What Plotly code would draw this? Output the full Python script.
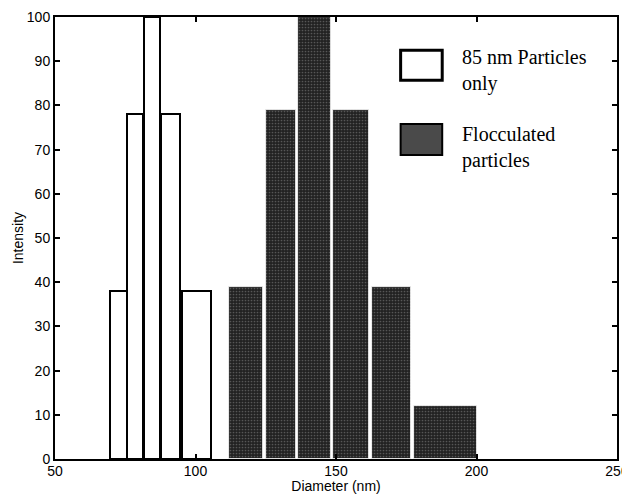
import plotly.graph_objects as go

# Data
white_left = [69.6, 75.6, 81.5, 87.8, 95.2]
white_right = [75.5, 81.2, 87.3, 94.4, 105.4]
white_heights = [38, 78, 100, 78, 38]

dark_left = [112.0, 125.0, 136.6, 149.0, 162.7, 177.9]
dark_right = [124.1, 135.8, 148.2, 161.8, 176.6, 200.3]
dark_heights = [39, 79, 100, 79, 39, 12]

x_ticks = [50, 100, 150, 200, 250]
y_ticks = [0, 10, 20, 30, 40, 50, 60, 70, 80, 90, 100]

legend_labels = ["85 nm Particles<br>only", "Flocculated<br>particles"]

def centers(l, r):
    return [(a + b) / 2 for a, b in zip(l, r)]

def widths(l, r):
    return [b - a for a, b in zip(l, r)]

fig = go.Figure()
fig.add_trace(go.Bar(
    x=centers(white_left, white_right), y=white_heights,
    width=widths(white_left, white_right),
    marker=dict(color="white", line=dict(color="black", width=2)),
    name="85 nm Particles only", showlegend=False,
))
fig.add_trace(go.Bar(
    x=centers(dark_left, dark_right), y=dark_heights,
    width=widths(dark_left, dark_right),
    marker=dict(color="#262626", line=dict(color="white", width=0.8),
                pattern=dict(shape=".", fgcolor="#8a8a8a", bgcolor="#222222",
                             size=3, solidity=0.25)),
    name="Flocculated particles", showlegend=False,
))

axis_font = dict(family="Liberation Sans, Arial, sans-serif", size=14, color="black")

# the page body adds an 8px offset, so the figure is 8px smaller than the window
fig.update_layout(
    width=622, height=486,
    margin=dict(l=47, r=13, t=9, b=35),
    paper_bgcolor="white", plot_bgcolor="white",
    barmode="overlay", bargap=0,
    font=axis_font,
    xaxis=dict(range=[50, 250], tickvals=x_ticks, ticks="inside", ticklen=5,
               tickwidth=1.5, tickcolor="black", showline=True, linecolor="black",
               linewidth=2, mirror="ticks", showgrid=False, zeroline=False,
               automargin=False, ticklabelstandoff=-2,
               title=dict(text="Diameter (nm)", font=dict(size=14), standoff=2),
               tickfont=dict(size=14)),
    yaxis=dict(range=[0, 100], tickvals=y_ticks, ticks="inside", ticklen=5,
               tickwidth=1.5, tickcolor="black", showline=True, linecolor="black",
               linewidth=2, mirror="ticks", showgrid=False, zeroline=False,
               automargin=False,
               title=dict(text="Intensity", font=dict(size=14), standoff=0),
               tickfont=dict(size=14)),
)

# Legend drawn inside the plot
fig.add_shape(type="rect", xref="paper", yref="paper", x0=0.615, x1=0.689, y0=0.857, y1=0.925,
              fillcolor="white", line=dict(color="black", width=3))
fig.add_shape(type="rect", xref="paper", yref="paper", x0=0.615, x1=0.689, y0=0.688, y1=0.758,
              fillcolor="#4a4a4a", line=dict(color="black", width=2))
for label, yc in zip(legend_labels, [0.879, 0.704]):
    fig.add_annotation(xref="paper", yref="paper", x=0.72, y=yc, text=label,
                       showarrow=False, xanchor="left", yanchor="middle", align="left",
                       font=dict(family="Liberation Serif, Times New Roman, serif", size=20, color="black"))

fig.write_html("out.html")
